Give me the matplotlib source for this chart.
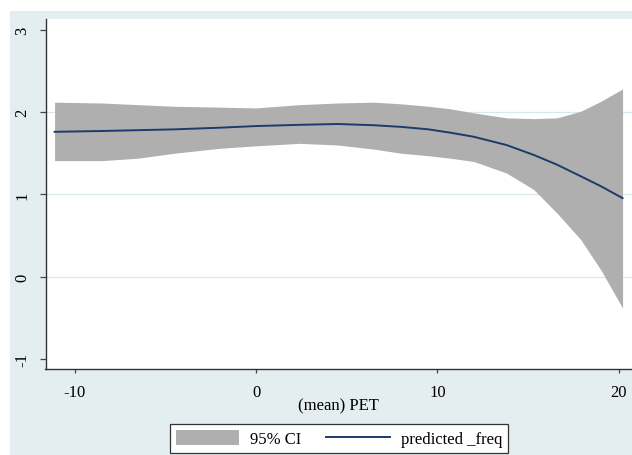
import numpy as np
import matplotlib
matplotlib.use("Agg")
import matplotlib.pyplot as plt
from matplotlib.patches import Rectangle

# values
pet = [-11.1, -8.5, -6.5, -4.5, -2, 0, 2.4, 4.5, 6.5, 8, 9.5, 10.7, 12, 13.8, 15.3,
       16.6, 17.9, 19, 20.2]
predicted = [1.76, 1.77, 1.78, 1.79, 1.81, 1.83, 1.845, 1.855, 1.84, 1.82, 1.79, 1.75,
             1.70, 1.60, 1.48, 1.36, 1.22, 1.10, 0.955]
ci_upper = [2.12, 2.11, 2.09, 2.07, 2.06, 2.05, 2.09, 2.11, 2.12, 2.10, 2.07, 2.04,
            1.99, 1.93, 1.92, 1.93, 2.01, 2.13, 2.28]
ci_lower = [1.41, 1.41, 1.44, 1.50, 1.56, 1.59, 1.62, 1.60, 1.55, 1.50, 1.47, 1.44,
            1.40, 1.26, 1.06, 0.77, 0.45, 0.085, -0.38]

x_ticks = [-10, 0, 10, 20]
y_ticks = [-1, 0, 1, 2, 3]
grid_at = [0, 1, 2]

plt.rcParams["font.family"] = ["Liberation Serif", "DejaVu Serif"]
plt.rcParams["axes.unicode_minus"] = False

W, H = 632, 456
fig = plt.figure(figsize=(W / 100, H / 100), dpi=100, facecolor="white")

# Stata-like graph region (white strip on top and left edge)
fig.patches.append(Rectangle((10 / W, 0), 1, (H - 12) / H, transform=fig.transFigure,
                             facecolor="#e4edf0", edgecolor="none", zorder=-10))

ax = fig.add_axes([45.5 / W, 86 / H, 1 - 45.5 / W, 350 / H])
ax.set_facecolor("white")

for g in grid_at:
    ax.axhline(g, color="#d9e6eb", lw=0.9, zorder=0)

ax.fill_between(pet, ci_lower, ci_upper, color="#afafaf", lw=0, label="95% CI", zorder=2)
ax.plot(pet, predicted, color="#1c3b6b", lw=1.4, label="predicted _freq", zorder=3)

ax.set_xlim(-11.6, 20.72)
ax.set_ylim(-1.12, 3.13)
ax.set_xticks(x_ticks)
ax.set_yticks(y_ticks)
ax.set_yticklabels([str(t) for t in y_ticks], rotation=90, va="center")

for s in ["top", "right"]:
    ax.spines[s].set_visible(False)
for s in ["left", "bottom"]:
    ax.spines[s].set_color("#333333")
    ax.spines[s].set_linewidth(1.0)

ax.tick_params(axis="y", length=4.3, width=0.9, color="#444444", pad=6.5, labelsize=12)
ax.tick_params(axis="x", length=3.2, width=0.9, color="#444444", pad=7.5, labelsize=12)
ax.set_xlabel("(mean) PET", fontsize=12, labelpad=-2)

handles, labels = ax.get_legend_handles_labels()
leg = fig.legend(handles, labels, loc="lower center", bbox_to_anchor=(339 / W, 2 / H),
                 ncol=2, fontsize=12, frameon=True, fancybox=False, borderaxespad=0,
                 handlelength=3.8, handleheight=1.0, handletextpad=0.66,
                 columnspacing=1.5, borderpad=0.35)
leg.get_frame().set_edgecolor("#333333")
leg.get_frame().set_linewidth(0.9)
leg.get_frame().set_facecolor("white")
leg.get_frame().set_alpha(1)

fig.savefig("out.png", dpi=100)
